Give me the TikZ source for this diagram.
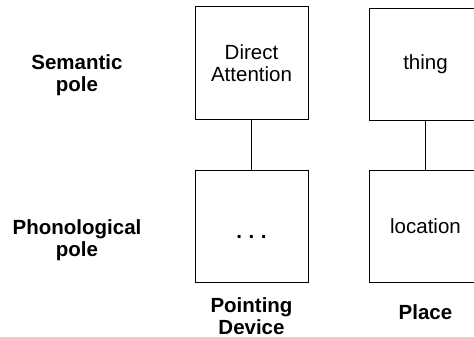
\documentclass[tikz,border=0pt]{standalone}
\usepackage{fontspec}
\setmainfont{Liberation Sans}
\usepackage{tikz}
\usetikzlibrary{positioning}
\tikzset{pole/.style={draw, line width=1pt, minimum width=113pt, minimum height=112pt, align=center, inner sep=0pt}}
\tikzset{heading/.style={align=center, font=\fontsize{20.5}{22}\selectfont\bfseries}}

\begin{document}
\begin{tikzpicture}[x=1pt, y=-1pt, line width=1pt, node distance=50pt and 60pt, every node/.style={font=\fontsize{20.5}{22}\selectfont}]
\useasboundingbox (0,0) rectangle (474,337);
\clip (0,0) rectangle (474,337);
\node[pole] (attn) at (251.5,63) {Direct\\Attention};
\node[pole, below=of attn] (dots) {\raisebox{-12pt}[0pt][0pt]{\textbf{.\hspace{6.5pt}.\hspace{6.5pt}.}}};
\node[pole, right=of attn, yshift=-1.5pt] (thing) {thing};
\node[pole, below=of thing, yshift=1.5pt] (loc) {location};
\node[heading] (sem) at (77,75) {Semantic\\pole};
\node[heading] (phon) at (77,240.5) {Phonological\\pole};
\node[heading, below=11pt of dots] (pd) {Pointing\\Device};
\node[heading, below=18pt of loc] (pl) {Place};
\draw (attn) -- (dots);
\draw (thing) -- (loc);
\end{tikzpicture}
\end{document}
